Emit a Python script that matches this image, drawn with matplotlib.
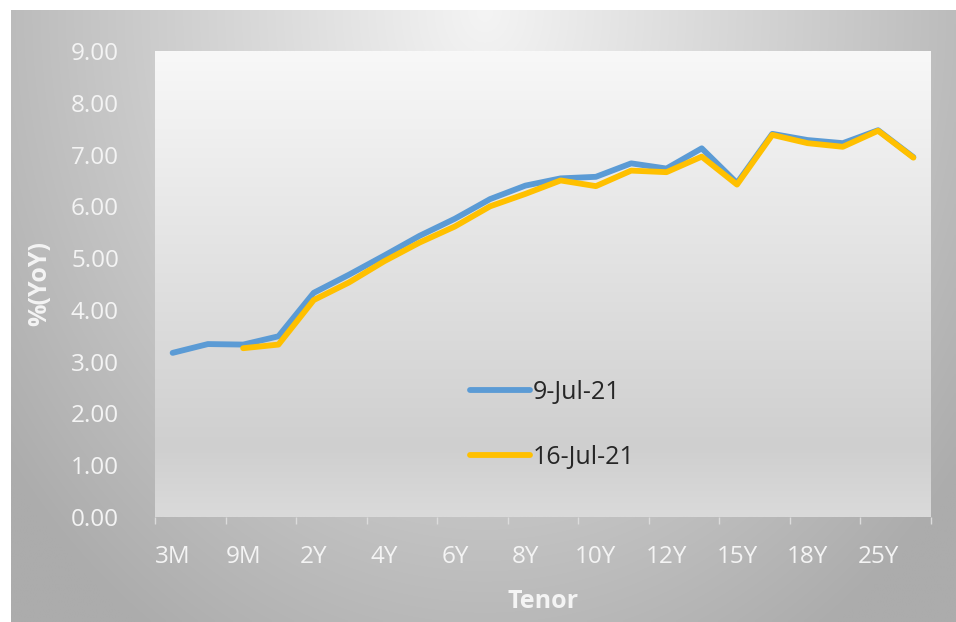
import numpy as np
import matplotlib
matplotlib.use("Agg")
import matplotlib.pyplot as plt

plt.rcParams['font.family'] = ['Open Sans', 'DejaVu Sans']

tenors = ["3M", "6M", "9M", "1Y", "2Y", "3Y", "4Y", "5Y", "6Y", "7Y", "8Y",
          "9Y", "10Y", "11Y", "12Y", "13Y", "15Y", "16Y", "18Y", "20Y", "25Y", "30Y"]
jul09 = [3.17, 3.34, 3.33, 3.49, 4.33, 4.68, 5.05, 5.43, 5.76, 6.14, 6.40,
         6.54, 6.57, 6.83, 6.73, 7.12, 6.45, 7.40, 7.28, 7.22, 7.47, 6.95]
jul16 = [np.nan, np.nan, 3.26, 3.33, 4.19, 4.53, 4.94, 5.30, 5.61, 6.00, 6.24,
         6.50, 6.39, 6.69, 6.66, 6.96, 6.42, 7.38, 7.22, 7.15, 7.46, 6.94]
series_names = ["9-Jul-21", "16-Jul-21"]
yticks = [0, 1, 2, 3, 4, 5, 6, 7, 8, 9]

W, H = 956, 622
fig = plt.figure(figsize=(W / 100, H / 100), dpi=100, facecolor="white")

# chart-area background (radial gradient)
bg = fig.add_axes([11 / W, 0, (W - 11) / W, (H - 10) / H], zorder=0)
ny, nx = 200, 300
yy, xx = np.mgrid[0:ny, 0:nx]
cx, cy = 0.5 * nx, 0.0
d = np.sqrt(((xx - cx) / (0.55 * nx)) ** 2 + ((yy - cy) / (1.05 * ny)) ** 2)
val = 244 - 62 * np.clip(d, 0, 1.25)
val = np.clip(val, 172, 246) / 255.0
img = np.dstack([val, val, val])
bg.imshow(img, aspect="auto", extent=[0, 1, 0, 1], origin="upper", interpolation="bilinear")
bg.set_axis_off()

# plot area
ax = fig.add_axes([155 / W, (H - 517) / H, 776 / W, 466 / H], zorder=1)
g = np.linspace(0, 1, 200)
pv = np.where(g < 0.85, 248 - (248 - 207) * (g / 0.85), 207 + (218 - 207) * ((g - 0.85) / 0.15))
pv = pv / 255.0
col = np.repeat(pv[:, None], 2, axis=1)
pimg = np.dstack([col, col, col])
ax.imshow(pimg, aspect="auto", extent=[0, 1, 0, 1], transform=ax.transAxes,
          origin="upper", interpolation="bilinear", zorder=0)

x = np.arange(len(tenors))
ax.plot(x, jul09, color="#5b9bd5", lw=4.2, solid_joinstyle="round",
        solid_capstyle="round", label=series_names[0], zorder=3)
ax.plot(x, jul16, color="#ffc000", lw=4.2, solid_joinstyle="round",
        solid_capstyle="round", label=series_names[1], zorder=4)
ax.set_xlim(-0.5, len(tenors) - 0.5)
ax.set_ylim(0, 9)
ax.set_aspect("auto")

for s in ax.spines.values():
    s.set_visible(False)

ax.set_xticks(x[::2])
ax.set_xticklabels(tenors[::2])
ax.set_xticks(np.arange(-0.5, len(tenors), 2), minor=True)
ax.tick_params(axis="x", which="major", length=0, pad=20, labelsize=17.5, labelcolor="#f4f4f4")
ax.tick_params(axis="x", which="minor", length=5, width=1.0, color="#dcdcdc", direction="out")
ax.set_yticks(yticks)
ax.set_yticklabels([f"{v:.2f}" for v in yticks])
ax.tick_params(axis="y", length=0, pad=26, labelsize=17.5, labelcolor="#f4f4f4")

leg = ax.legend(loc="center left", bbox_to_anchor=(470 / W, 1 - 425 / H),
                bbox_transform=fig.transFigure, frameon=False, fontsize=18,
                handlelength=2.4, handletextpad=0.12, labelspacing=1.6,
                borderpad=0, borderaxespad=0)
for t in leg.get_texts():
    t.set_color("#262626")

fig.text(543 / W, 1 - 602 / H, "Tenor", ha="center", va="center",
         fontsize=18, fontweight="bold", color="#f4f4f4")
fig.text(40 / W, 1 - 283 / H, "%(YoY)", ha="center", va="center", rotation=90,
         fontsize=18, fontweight="bold", color="#f4f4f4")

fig.savefig("out.png", dpi=100, facecolor="white")
